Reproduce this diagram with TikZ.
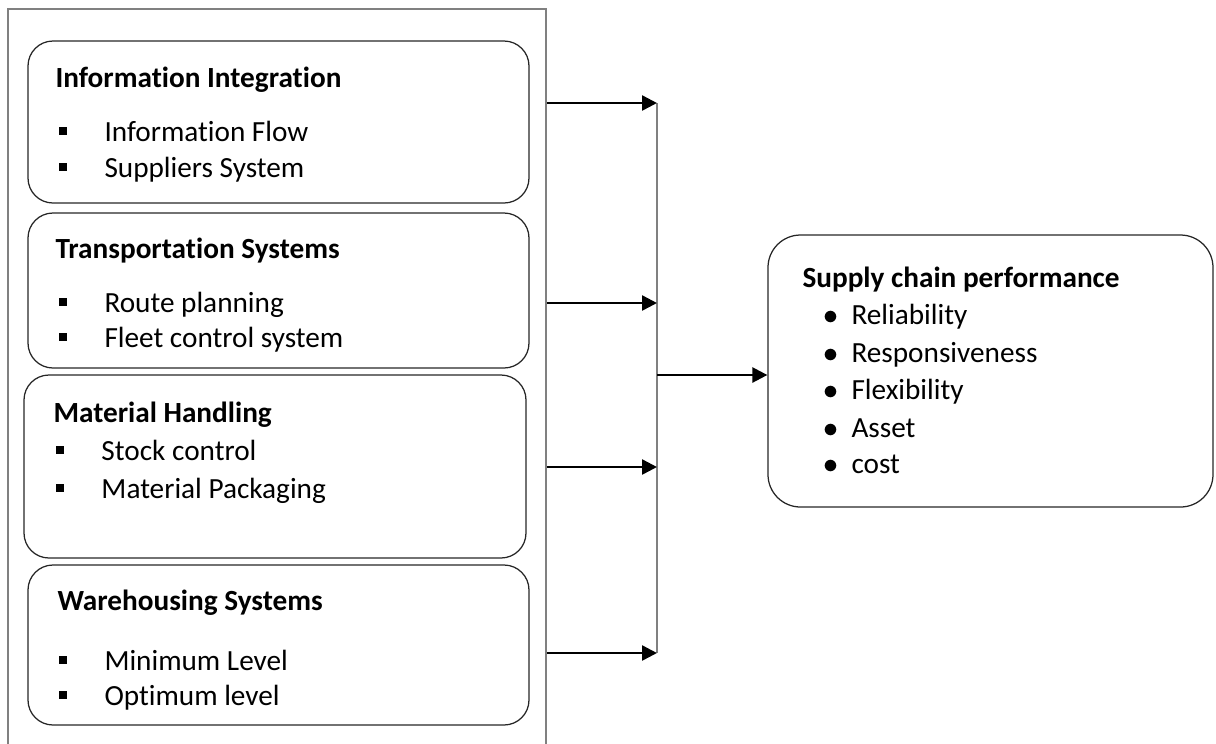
\documentclass[tikz,border=0pt]{standalone}
\usepackage{fontspec}
\setmainfont[Ligatures=NoCommon]{Carlito}
\usetikzlibrary{arrows.meta,fit}

\newcommand{\itemsq}{\llap{\raisebox{2.6pt}{\rule{3.2pt}{3.2pt}}\hspace{15.2pt}}}
\newcommand{\itemdot}{\llap{$\bullet$\hspace{5.2pt}}}

\begin{document}
\begin{tikzpicture}[x=0.4pt,y=-0.4pt,
	every node/.style={font=\fontsize{11.7}{14}\selectfont},
	frame/.style={draw=gray,line width=0.7pt,inner sep=0pt},
	grp/.style={draw=black!85,line width=0.5pt,rounded corners=10pt,inner sep=0pt},
	perfbox/.style={grp,rounded corners=13pt},
	hd/.style={anchor=base west,inner sep=0pt,font=\fontsize{11.7}{14}\selectfont\bfseries},
	txt/.style={anchor=base west,inner sep=0pt},
	arr/.style={-{Triangle[length=6pt,width=6pt]},line width=1pt},
	bus/.style={draw=gray,line width=0.7pt}]
\useasboundingbox (0,0) rectangle (1216,743);

% outer frame and the four groups
\node[frame,fit={(8,9) (546,780)}] (frame) {};
\node[grp,fit={(28,41) (529,203)}] (info) {};
\node[grp,fit={(28,213) (529,368)}] (trans) {};
\node[grp,fit={(24,375) (526,558)}] (mat) {};
\node[grp,fit={(28,565) (529,725)}] (ware) {};

\node[hd] (infoT) at (55,87) {Information Integration};
\node[txt] (infoA) at (104,141) {\itemsq Information Flow};
\node[txt] (infoB) at (104,177) {\itemsq Suppliers System};

\node[hd] (transT) at (55,258) {Transportation Systems};
\node[txt] (transA) at (104,312) {\itemsq Route planning};
\node[txt] (transB) at (104,347) {\itemsq Fleet control system};

\node[hd] (matT) at (53,422) {Material Handling};
\node[txt] (matA) at (101,460) {\itemsq Stock control};
\node[txt] (matB) at (101,498) {\itemsq Material Packaging};

\node[hd] (wareT) at (57,610) {Warehousing Systems};
\node[txt] (wareA) at (104,670) {\itemsq Minimum Level};
\node[txt] (wareB) at (104,705) {\itemsq Optimum level};

% performance box
\node[perfbox,fit={(768,235) (1213,507)}] (perf) {};
\node[hd] (perfT) at (802,287) {Supply chain performance};
\node[txt] (perfA) at (851,324) {\itemdot Reliability};
\node[txt] (perfB) at (851,362) {\itemdot Responsiveness};
\node[txt] (perfC) at (851,399) {\itemdot Flexibility};
\node[txt] (perfD) at (851,437) {\itemdot Asset};
\node[txt] (perfE) at (851,473) {\itemdot cost};

% bus line and arrows
\coordinate (b1) at (657,103);
\coordinate (b2) at (657,303);
\coordinate (b3) at (657,467);
\coordinate (b4) at (657,653);
\coordinate (bm) at (657,375);
\draw[bus] (b1) -- (b4);
\foreach \i in {1,...,4}
	\draw[arr] (frame.east |- b\i) -- (b\i);
\draw[arr] (bm) -- (perf.west |- bm);
\end{tikzpicture}
\end{document}
